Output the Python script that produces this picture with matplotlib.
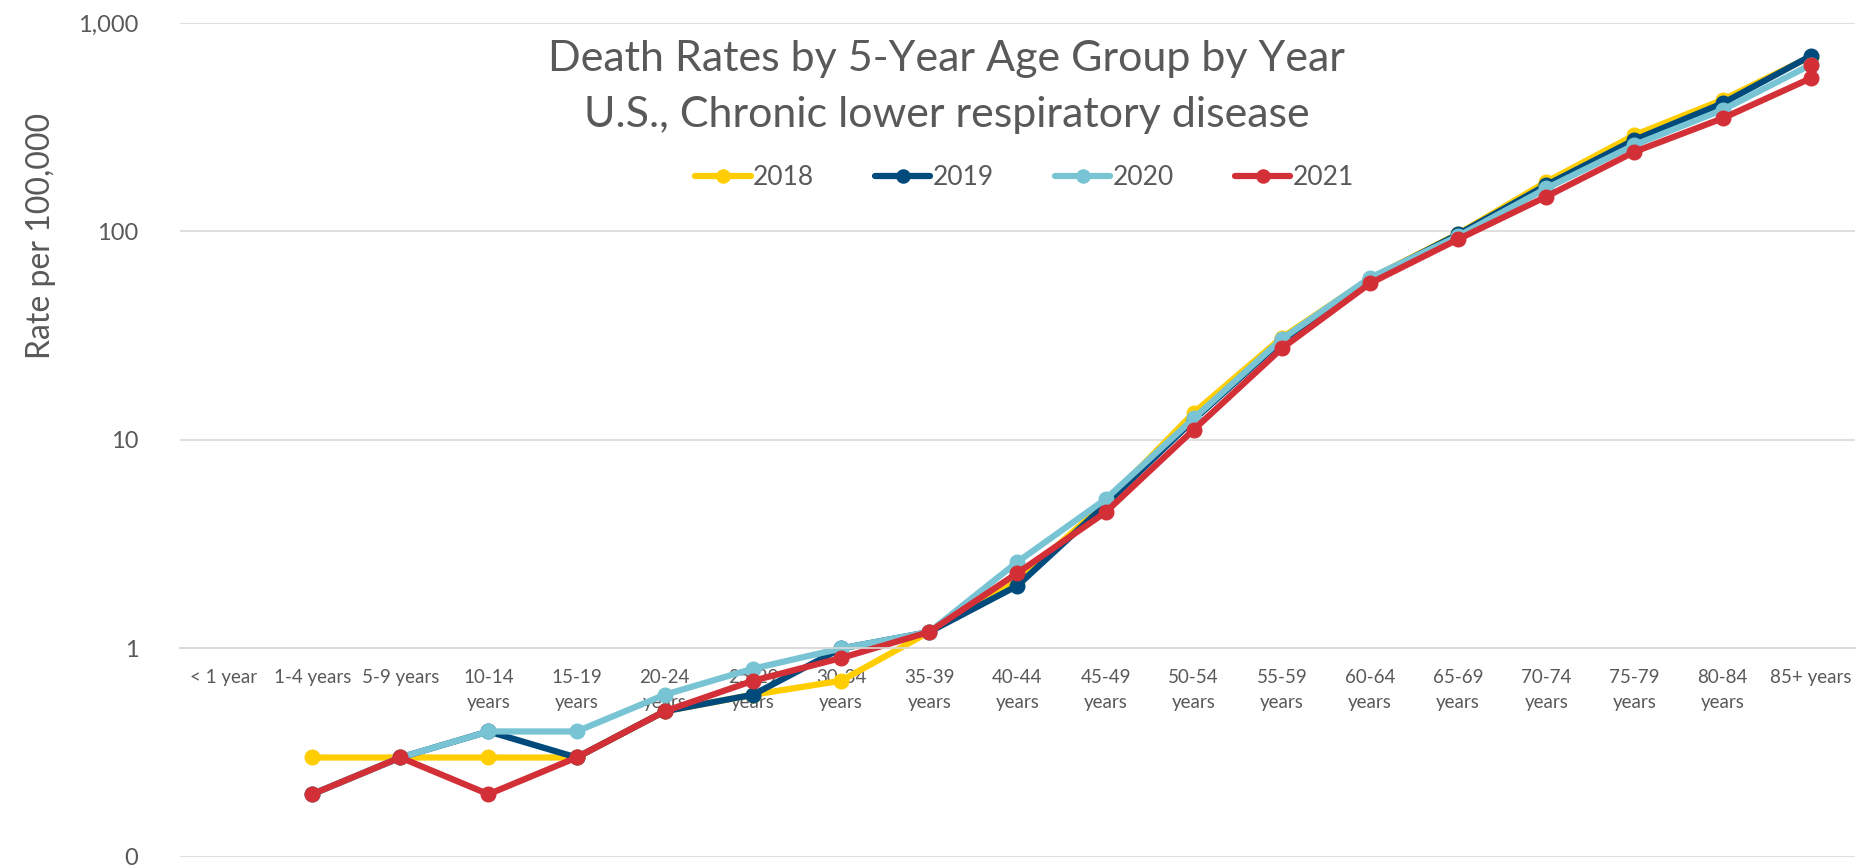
import numpy as np
import matplotlib
matplotlib.use("Agg")
import matplotlib.pyplot as plt

# age groups on the category axis
age_groups = ["< 1 year", "1-4 years", "5-9 years", "10-14\nyears", "15-19\nyears",
              "20-24\nyears", "25-29\nyears", "30-34\nyears", "35-39\nyears",
              "40-44\nyears", "45-49\nyears", "50-54\nyears", "55-59\nyears",
              "60-64\nyears", "65-69\nyears", "70-74\nyears", "75-79\nyears",
              "80-84\nyears", "85+ years"]

# death rates per 100,000 (no value for < 1 year)
rate_2018 = [np.nan, 0.3, 0.3, 0.3, 0.3, 0.5, 0.6, 0.7, 1.2, 2.1, 5.0, 13.5, 31.0,
             59.5, 97.5, 173, 290, 428, 690]
rate_2019 = [np.nan, 0.2, 0.3, 0.4, 0.3, 0.5, 0.6, 1.0, 1.2, 2.0, 4.9, 12.5, 30.0,
             59.0, 97.0, 167, 275, 412, 695]
rate_2020 = [np.nan, 0.2, 0.3, 0.4, 0.4, 0.6, 0.8, 1.0, 1.2, 2.6, 5.2, 12.7, 30.5,
             60.0, 95.0, 161, 260, 383, 630]
rate_2021 = [np.nan, 0.2, 0.3, 0.2, 0.3, 0.5, 0.7, 0.9, 1.2, 2.3, 4.5, 11.2, 27.5,
             56.4, 91.8, 147, 241, 349, 543]

years = ["2018", "2019", "2020", "2021"]
colors = ["#FFCD00", "#004B7C", "#78C4D4", "#D32F37"]

y_ticks = [0.1, 1, 10, 100, 1000]
y_tick_labels = ["0", "1", "10", "100", "1,000"]

plt.rcParams['font.family'] = ['Lato', 'DejaVu Sans']
text_color = "#595959"
grid_color = "#D9D9D9"

fig = plt.figure(figsize=(18.63, 8.68), dpi=100)
ax = fig.add_axes([0.0966, 0.0127, 0.899, 0.9608])

x = np.arange(len(age_groups))
series = [rate_2018, rate_2019, rate_2020, rate_2021]
for vals, year, col in zip(series, years, colors):
    ax.plot(x, vals, color=col, linewidth=4.5, marker='o', markersize=10.5,
            solid_capstyle='round', label=year)

# last 2020 point is shown with a red marker
ax.plot(x[-1], rate_2020[-1], marker='o', markersize=10.5, color=colors[3],
        linestyle='None')

ax.set_yscale('log')
ax.set_ylim(0.1, 1000)
ax.set_xlim(-0.5, len(age_groups) - 0.5)
ax.set_yticks(y_ticks, y_tick_labels)
ax.minorticks_off()
ax.set_xticks(x, age_groups)

ax.grid(axis='y', color=grid_color, linewidth=1.2)
ax.set_axisbelow(True)
for s in ['top', 'right', 'left']:
    ax.spines[s].set_visible(False)
# category axis crosses at 1
ax.spines['bottom'].set_position(('data', 1))
ax.spines['bottom'].set_color(grid_color)
ax.spines['bottom'].set_linewidth(1.2)

ax.tick_params(axis='both', length=0)
ax.tick_params(axis='x', labelsize=13.5, labelcolor=text_color, pad=15)
ax.tick_params(axis='y', labelsize=17, labelcolor=text_color, pad=30)
for lbl in ax.get_xticklabels():
    lbl.set_linespacing(1.55)

fig.text(0.022, 0.728, "Rate per 100,000", rotation=90, fontsize=23,
         color=text_color, ha='center', va='center')

fig.text(0.508, 0.9, "Death Rates by 5-Year Age Group by Year\nU.S., Chronic lower respiratory disease",
         ha='center', va='center', fontsize=31, color=text_color,
         linespacing=1.6)

fig.legend(loc='center', bbox_to_anchor=(0.55, 0.795), ncol=4, frameon=False,
           fontsize=19, labelcolor=text_color, handlelength=2.1,
           handletextpad=0.1, columnspacing=2.3, markerscale=0.9)

fig.savefig("out.png", dpi=100)
